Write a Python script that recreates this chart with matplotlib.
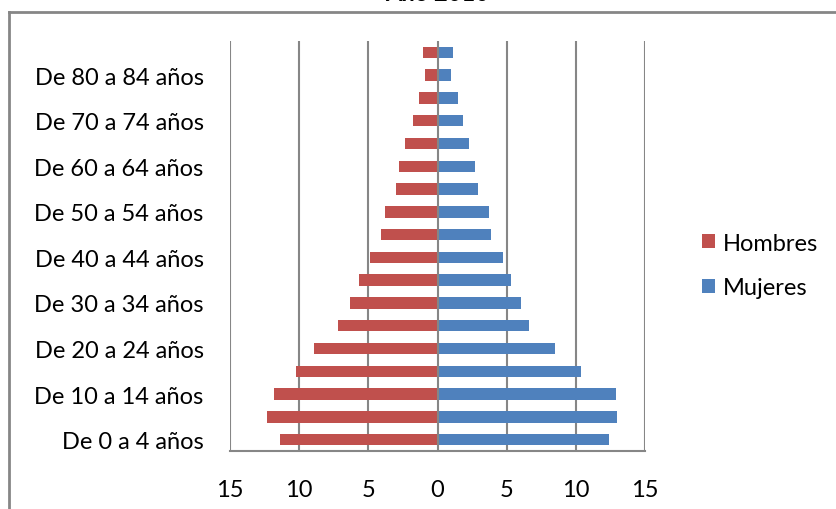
import matplotlib.pyplot as plt
import numpy as np
from matplotlib.lines import Line2D

# age groups, bottom to top
grupos = ['De 0 a 4 años', 'De 5 a 9 años', 'De 10 a 14 años', 'De 15 a 19 años',
          'De 20 a 24 años', 'De 25 a 29 años', 'De 30 a 34 años', 'De 35 a 39 años',
          'De 40 a 44 años', 'De 45 a 49 años', 'De 50 a 54 años', 'De 55 a 59 años',
          'De 60 a 64 años', 'De 65 a 69 años', 'De 70 a 74 años', 'De 75 a 79 años',
          'De 80 a 84 años', 'De 85 y más']
hombres = [11.4, 12.3, 11.8, 10.2, 8.9, 7.2, 6.3, 5.7, 4.9, 4.1,
           3.8, 3.0, 2.75, 2.35, 1.75, 1.35, 0.9, 1.05]
mujeres = [12.4, 13.0, 12.9, 10.4, 8.5, 6.6, 6.0, 5.3, 4.7, 3.85,
           3.7, 2.9, 2.7, 2.25, 1.85, 1.45, 0.95, 1.1]
ticks_x = [-15, -10, -5, 0, 5, 10, 15]

rojo = '#C0504D'
azul = '#4F81BD'
gris = '#868686'

plt.rcParams['font.family'] = ['Lato', 'DejaVu Sans']
fs = 17

fig = plt.figure(figsize=(8.36, 5.10), dpi=100)
ax = fig.add_axes([230 / 836, 1 - 452 / 510, 415 / 836, 410 / 510])

y = np.arange(len(grupos))
ax.barh(y, -np.array(hombres), height=0.5, color=rojo, label='Hombres', zorder=3)
ax.barh(y, mujeres, height=0.5, color=azul, label='Mujeres', zorder=3)

ax.set_xlim(-15, 15)
ax.set_ylim(-0.5, 17.5)
for xv in ticks_x:
    ax.axvline(xv, color=gris, lw=1.5, zorder=1 if xv != 0 else 4)

ax.set_xticks(ticks_x)
ax.set_xticklabels([str(abs(v)) for v in ticks_x], fontsize=fs)
ax.set_yticks(y[::2])
ax.set_yticklabels(grupos[::2], fontsize=fs)
ax.tick_params(axis='both', length=0)
ax.tick_params(axis='x', pad=20)
ax.tick_params(axis='y', pad=19)

for s in ['top', 'left', 'right']:
    ax.spines[s].set_visible(False)
ax.spines['bottom'].set_color(gris)
ax.spines['bottom'].set_linewidth(1.5)

leg = ax.legend(loc='center left', bbox_to_anchor=(702 / 836, 1 - 266.5 / 510),
                bbox_transform=fig.transFigure, frameon=False, fontsize=fs,
                handlelength=0.55, handleheight=0.55, handletextpad=0.35,
                labelspacing=1.0, borderpad=0, borderaxespad=0)

# chart border and title
fig.add_artist(Line2D([9 / 836, 1], [1 - 13 / 510, 1 - 13 / 510], color=gris, lw=2))
fig.add_artist(Line2D([9 / 836, 9 / 836], [0, 1 - 13 / 510], color=gris, lw=2))
fig.text(437 / 836, 1 - 1 / 510, 'Año 2010', ha='center', va='baseline',
         fontsize=17, fontweight='bold')

fig.savefig('out.png', dpi=100)
